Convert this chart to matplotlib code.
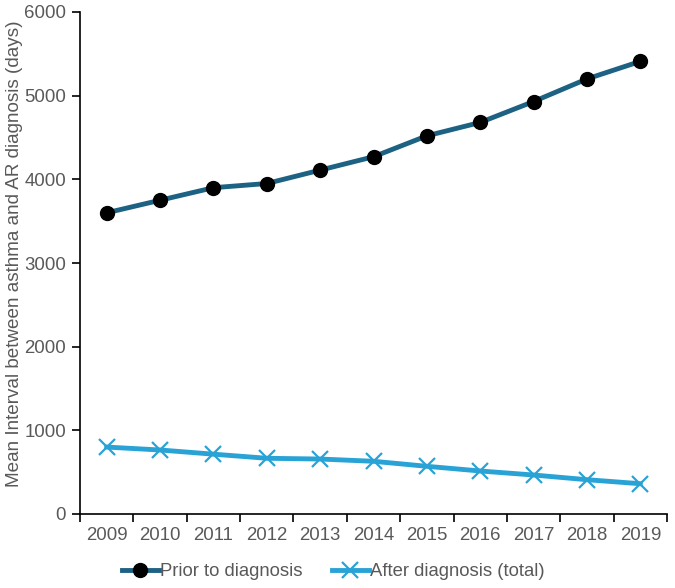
import matplotlib
matplotlib.use("Agg")
import matplotlib.pyplot as plt

years = ["2009", "2010", "2011", "2012", "2013", "2014", "2015", "2016", "2017", "2018", "2019"]
prior = [3600, 3750, 3900, 3950, 4110, 4270, 4520, 4680, 4930, 5200, 5410]
after = [800, 765, 715, 666, 657, 630, 570, 514, 466, 410, 362]

plt.rcParams['font.family'] = ['Liberation Sans', 'DejaVu Sans']

fig = plt.figure(figsize=(6.75, 5.88), dpi=100)
ax = fig.add_axes([80/675, 1-514/588, (667-80)/675, (514-12)/588])

x = list(range(len(years)))
ax.plot(x, prior, color='#1D6282', lw=3.5, marker='o', markersize=10,
        markerfacecolor='black', markeredgecolor='black', label='Prior to diagnosis')
ax.plot(x, after, color='#29A3D6', lw=3.5, marker='x', markersize=11,
        markeredgewidth=1.6, label='After diagnosis (total)')

ax.set_xlim(-0.5, len(years)-0.5)
ax.set_ylim(0, 6000)
ax.set_yticks([0, 1000, 2000, 3000, 4000, 5000, 6000])
ax.set_xticks(x)
ax.set_xticklabels(years)
ax.set_xticks([i-0.5 for i in range(len(years)+1)], minor=True)
ax.tick_params(axis='x', which='major', length=0, pad=9.5, labelsize=13.4, labelcolor='#595959')
ax.tick_params(axis='x', which='minor', length=6, width=1.2, color='black')
ax.tick_params(axis='y', length=6, width=1.2, labelsize=13.4, labelcolor='#595959', pad=4)

for s in ['top', 'right']:
    ax.spines[s].set_visible(False)
for s in ['left', 'bottom']:
    ax.spines[s].set_linewidth(1.2)

ax.set_ylabel('Mean Interval between asthma and AR diagnosis (days)', fontsize=13.6,
              color='#595959', va='center')
ax.yaxis.set_label_coords((15-80)/587, (514-254)/502)

leg = ax.legend(loc='center', bbox_to_anchor=(0.431, -0.1155), ncol=2, frameon=False,
                fontsize=13.3, handlelength=2.0, columnspacing=1.6, handletextpad=0.05,
                borderpad=0)
for t in leg.get_texts():
    t.set_color('#595959')

fig.savefig('out.png', dpi=100)
